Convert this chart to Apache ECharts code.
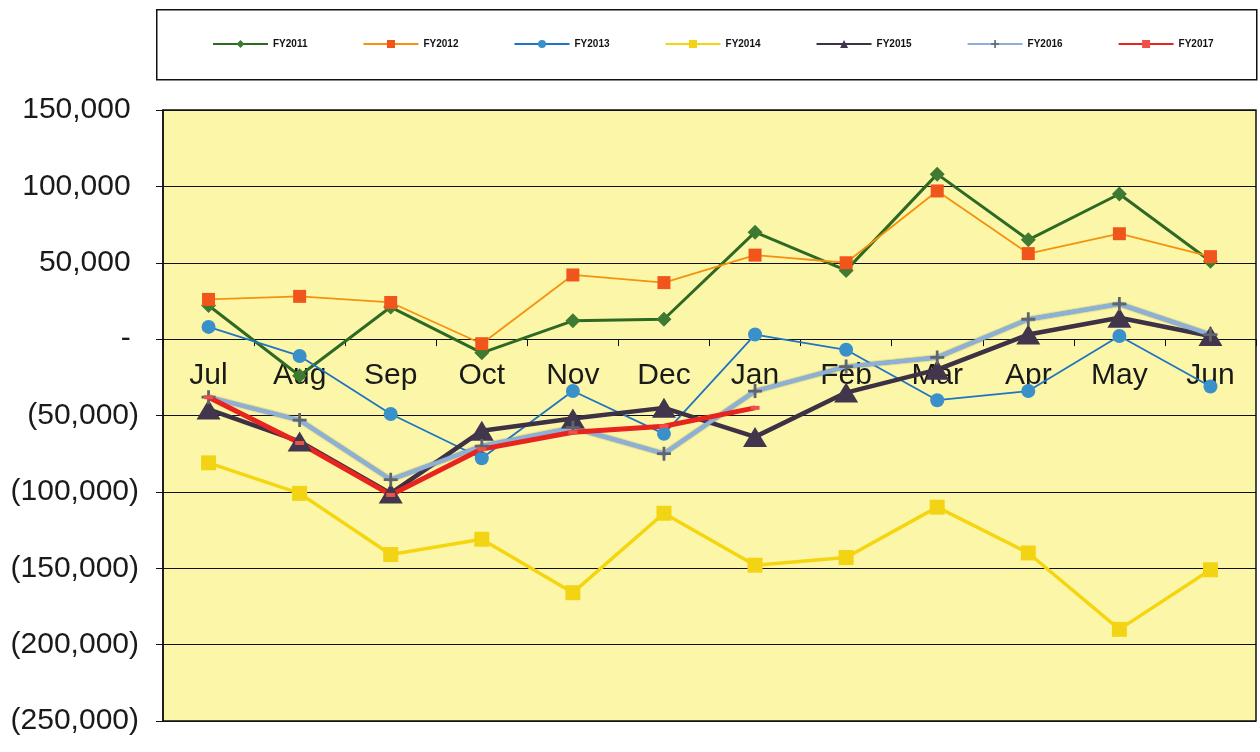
<!DOCTYPE html>
<html>
<head>
<meta charset="utf-8">
<script src="https://cdn.jsdelivr.net/npm/echarts@6/dist/echarts.min.js"></script>
<style>
html,body{margin:0;padding:0;background:#fff;}
#chart{width:1260px;height:752px;}
</style>
</head>
<body>
<div id="chart"></div>
<script>
const months = ['Jul','Aug','Sep','Oct','Nov','Dec','Jan','Feb','Mar','Apr','May','Jun'];
const seriesNames = ['FY2011','FY2012','FY2013','FY2014','FY2015','FY2016','FY2017'];
const fy2011 = [22000, -24000, 21000, -9000, 12000, 13000, 70000, 45000, 108000, 65000, 95000, 51000];
const fy2012 = [26000, 28000, 24000, -3000, 42000, 37000, 55000, 50000, 97000, 56000, 69000, 54000];
const fy2013 = [8000, -11000, -49000, -78000, -34000, -62000, 3000, -7000, -40000, -34000, 2000, -31000];
const fy2014 = [-81000, -101000, -141000, -131000, -166000, -114000, -148000, -143000, -110000, -140000, -190000, -151000];
const fy2015 = [-46000, -67000, -101000, -60000, -52000, -45000, -64000, -35000, -20000, 3000, 14000, 2000];
const fy2016 = [-38000, -53000, -92000, -70000, -58000, -75000, -34000, -18000, -12000, 13000, 23000, 3000];
const fy2017 = [-38000, -68000, -102000, -72000, -61000, -57000, -45000];
const yMin = -250000, yMax = 150000, yStep = 50000;

const FONT = '"Liberation Sans", Arial, sans-serif';
const plusPath = 'path://M4,0 L6,0 L6,4 L10,4 L10,6 L6,6 L6,10 L4,10 L4,6 L0,6 L0,4 L4,4 Z';

function fmt(v){
  if (v === 0) return '- ';
  const s = Math.abs(v).toString().replace(/\B(?=(\d{3})+(?!\d))/g, ',');
  return v < 0 ? '(' + s + ')' : s + ' ';
}

const GRID_TOP = 110, GRID_BOTTOM = 31, H = 752;
const plotH = H - GRID_TOP - GRID_BOTTOM;
// distance of the zero line above the bottom of the plot, from the axis range
const zeroOffset = plotH * (0 - yMin) / (yMax - yMin);

const chart = echarts.init(document.getElementById('chart'), null, {renderer:'canvas'});
chart.setOption({
  backgroundColor: '#ffffff',
  animation: false,
  graphic: [{
    type: 'rect', left: 156, top: 9, z: -1,
    shape: {width: 1100, height: 70},
    style: {fill: '#ffffff', stroke: '#111', lineWidth: 1.5}
  }],
  legend: {
    left: 207, top: 34,
    itemWidth: 55, itemHeight: 10, itemGap: 55,
    textStyle: {fontFamily: FONT, fontSize: 10, fontWeight: 'bold', color: '#111'},
    data: seriesNames
  },
  grid: {
    left: 163, right: 4, top: GRID_TOP, bottom: GRID_BOTTOM,
    show: true, backgroundColor: '#fcf7a8', borderColor: '#111', borderWidth: 1.5
  },
  xAxis: {
    type: 'category', data: months, boundaryGap: true,
    offset: -zeroOffset,
    axisLine: {onZero: false, lineStyle: {color: '#111', width: 1.2}},
    axisTick: {show: true, length: 7, lineStyle: {color: '#111'}},
    axisLabel: {fontFamily: FONT, fontSize: 30, color: '#1a1a1a', margin: 22, interval: 0}
  },
  yAxis: {
    type: 'value', min: yMin, max: yMax, interval: yStep,
    axisLine: {show: true, lineStyle: {color: '#111', width: 1.5}},
    axisTick: {show: true, length: 7, lineStyle: {color: '#111'}},
    splitLine: {show: true, lineStyle: {color: '#111', width: 1.2}},
    axisLabel: {fontFamily: FONT, fontSize: 30, color: '#1a1a1a', margin: 24, formatter: fmt}
  },
  series: [
    {name: 'FY2011', type: 'line', data: fy2011, symbol: 'diamond', symbolSize: 15,
     lineStyle: {color: '#2f6a25', width: 3}, itemStyle: {color: '#3e7a32'}},
    {name: 'FY2012', type: 'line', data: fy2012, symbol: 'rect', symbolSize: 13,
     lineStyle: {color: '#f4920f', width: 1.8}, itemStyle: {color: '#f0561c'}},
    {name: 'FY2013', type: 'line', data: fy2013, symbol: 'circle', symbolSize: 14,
     lineStyle: {color: '#1f74c4', width: 1.8}, itemStyle: {color: '#3a90c8'}},
    {name: 'FY2014', type: 'line', data: fy2014, symbol: 'rect', symbolSize: 15,
     lineStyle: {color: '#f4d510', width: 3.5}, itemStyle: {color: '#f3d414'}},
    {name: 'FY2015', type: 'line', data: fy2015, symbol: 'triangle', symbolSize: [24, 20],
     lineStyle: {color: '#3c3145', width: 4.5}, itemStyle: {color: '#41364b'}},
    {name: 'FY2016', type: 'line', data: fy2016, symbol: plusPath, symbolSize: 14,
     lineStyle: {color: '#8cb1d8', width: 4, shadowColor: '#6b6f78', shadowBlur: 2},
     itemStyle: {color: '#5d6570'}},
    {name: 'FY2017', type: 'line', data: fy2017, symbol: 'rect', symbolSize: [9, 4],
     lineStyle: {color: '#e8241e', width: 5}, itemStyle: {color: '#f0504a'}}
  ]
});
</script>
</body>
</html>
